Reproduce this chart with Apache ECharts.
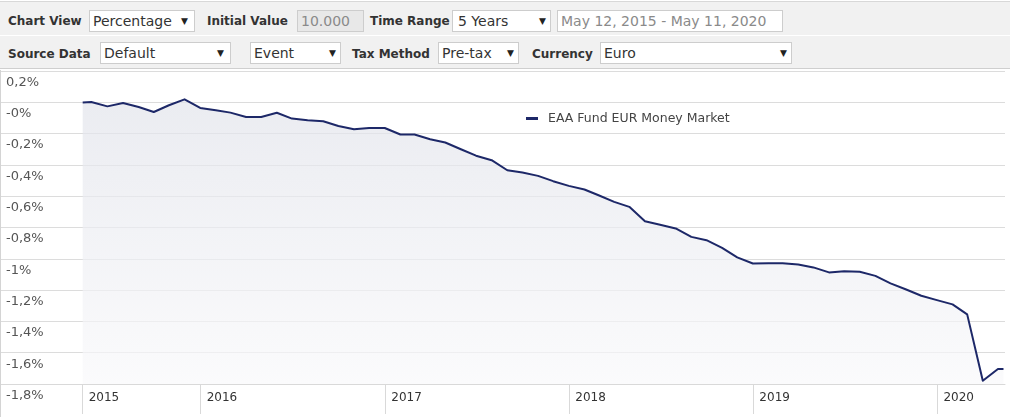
<!DOCTYPE html>
<html>
<head>
<meta charset="utf-8">
<script src="https://cdn.jsdelivr.net/npm/echarts@6/dist/echarts.min.js"></script>
<style>
  html, body { margin: 0; padding: 0; background: #fff; width: 1010px; height: 417px; overflow: hidden; font-family: "DejaVu Sans", sans-serif; }
  .row { position: absolute; left: 0; width: 1010px; background: #f1f1f1; }
  #row1 { top: 1px; height: 33px; border-top: 1px solid #d8d8d8; }
  #row2 { top: 35px; height: 32px; border-top: 1px solid #ffffff; border-bottom: 1px solid #cfcfcf; }
  .lbl { position: absolute; font-weight: bold; font-size: 12px; color: #333; line-height: 22px; white-space: nowrap; }
  .box { position: absolute; height: 20px; background: #fff; border: 1px solid #cdcdcd; box-sizing: content-box; }
  .box .t { position: absolute; left: 3px; top: 0; line-height: 20px; font-size: 14px; color: #333; white-space: nowrap; }
  .box .a { position: absolute; top: 0; line-height: 20px; font-size: 9px; color: #222; }
  .box.grey { background: #e8e8e8; }
  .box.grey .t, .box.ro .t { color: #8a8a8a; }
  #chartWrap { position: absolute; left: 0; top: 70px; width: 1009px; height: 347px; border-left: 1px solid #d4d4d4; }
  #chart { width: 1009px; height: 347px; }
</style>
</head>
<body>
<div class="row" id="row1">
  <div class="lbl" style="left:8px;top:8px;">Chart View</div>
  <div class="box" style="left:89px;top:8px;width:104px;"><span class="t">Percentage</span><span class="a" style="left:91px;">▼</span></div>
  <div class="lbl" style="left:207px;top:8px;">Initial Value</div>
  <div class="box grey" style="left:297px;top:8px;width:65px;"><span class="t">10.000</span></div>
  <div class="lbl" style="left:370px;top:8px;">Time Range</div>
  <div class="box" style="left:452px;top:8px;width:97px;"><span class="t" style="left:5px;">5 Years</span><span class="a" style="left:86px;">▼</span></div>
  <div class="box ro" style="left:557px;top:8px;width:224px;"><span class="t">May 12, 2015 - May 11, 2020</span></div>
</div>
<div class="row" id="row2">
  <div class="lbl" style="left:8px;top:7px;">Source Data</div>
  <div class="box" style="left:100px;top:6px;width:129px;"><span class="t">Default</span><span class="a" style="left:116px;">▼</span></div>
  <div class="box" style="left:250px;top:6px;width:89px;"><span class="t">Event</span><span class="a" style="left:78px;">▼</span></div>
  <div class="lbl" style="left:352px;top:7px;">Tax Method</div>
  <div class="box" style="left:438px;top:6px;width:79px;"><span class="t">Pre-tax</span><span class="a" style="left:68px;">▼</span></div>
  <div class="lbl" style="left:532px;top:7px;">Currency</div>
  <div class="box" style="left:600px;top:6px;width:190px;"><span class="t">Euro</span><span class="a" style="left:179px;">▼</span></div>
</div>
<div id="chartWrap"><div id="chart"></div></div>
<script>
// ---- data ----
const seriesName = 'EAA Fund EUR Money Market';
const dates = [
  '2015-05-12','2015-05-29','2015-06-30','2015-07-31','2015-08-31','2015-09-30','2015-10-30','2015-11-30','2015-12-31',
  '2016-01-31','2016-02-29','2016-03-31','2016-04-30','2016-05-31','2016-06-30','2016-07-31','2016-08-31','2016-09-30','2016-10-31','2016-11-30','2016-12-31',
  '2017-01-31','2017-02-28','2017-03-31','2017-04-30','2017-05-31','2017-06-30','2017-07-31','2017-08-31','2017-09-30','2017-10-31','2017-11-30','2017-12-31',
  '2018-01-31','2018-02-28','2018-03-31','2018-04-30','2018-05-31','2018-06-30','2018-07-31','2018-08-31','2018-09-30','2018-10-31','2018-11-30','2018-12-31',
  '2019-01-31','2019-02-28','2019-03-31','2019-04-30','2019-05-31','2019-06-30','2019-07-31','2019-08-31','2019-09-30','2019-10-31','2019-11-30','2019-12-31',
  '2020-01-31','2020-02-29','2020-03-31','2020-04-30','2020-05-11'
];
const values = [
  -0.002, 0.002, -0.026, -0.004, -0.030, -0.062, -0.019, 0.019, -0.036,
  -0.051, -0.066, -0.094, -0.094, -0.067, -0.104, -0.115, -0.121, -0.151, -0.172, -0.164, -0.164,
  -0.206, -0.206, -0.236, -0.257, -0.300, -0.341, -0.370, -0.434, -0.449, -0.470, -0.504, -0.534,
  -0.557, -0.594, -0.636, -0.668, -0.760, -0.782, -0.806, -0.860, -0.881, -0.930, -0.991, -1.030,
  -1.028, -1.028, -1.036, -1.055, -1.087, -1.079, -1.083, -1.109, -1.157, -1.196, -1.236, -1.264,
  -1.291, -1.355, -1.779, -1.704, -1.704
];
const yTickValues = [0.2, 0, -0.2, -0.4, -0.6, -0.8, -1, -1.2, -1.4, -1.6, -1.8];
const yTickLabels = ['0,2%', '-0%', '-0,2%', '-0,4%', '-0,6%', '-0,8%', '-1%', '-1,2%', '-1,4%', '-1,6%', '-1,8%'];
const xTickDates = ['2015-05-12', '2016-01-01', '2017-01-01', '2018-01-01', '2019-01-01', '2020-01-01'];
const xTickLabels = ['2015', '2016', '2017', '2018', '2019', '2020'];
const xAxisMin = '2014-12-01';
const xAxisMax = '2020-05-14';

// ---- chart ----
const toTs = s => new Date(s + 'T00:00:00').getTime();
const xTickTs = xTickDates.map(toTs);
const seriesData = dates.map((d, i) => [toTs(d), values[i]]);

const chart = echarts.init(document.getElementById('chart'), null, { renderer: 'canvas' });
const FONT = '"DejaVu Sans", Verdana, sans-serif';
chart.setOption({
  animation: false,
  backgroundColor: '#ffffff',
  grid: { left: 0, right: 5, top: 1, bottom: 33, outerBoundsMode: 'none', containLabel: false },
  legend: {
    data: [seriesName],
    left: 520, top: 37,
    icon: 'rect', itemWidth: 12, itemHeight: 3,
    textStyle: { color: '#444', fontSize: 12.5, fontFamily: FONT, padding: [0, 0, 0, 5] }
  },
  xAxis: {
    type: 'value',
    position: 'bottom',
    min: toTs(xAxisMin), max: toTs(xAxisMax),
    splitLine: { show: false },
    axisLine: { show: true, onZero: false, lineStyle: { color: '#d9d9d9', width: 1 } },
    axisTick: { show: true, customValues: xTickTs, length: 30, inside: false, lineStyle: { color: '#d9d9d9', width: 1 } },
    axisLabel: {
      customValues: xTickTs,
      formatter: v => { const i = xTickTs.findIndex(t => Math.abs(t - v) < 86400000); return i >= 0 ? xTickLabels[i] : ''; },
      align: 'left', padding: [0, 0, 0, 6], margin: 8,
      color: '#333', fontSize: 12, fontFamily: FONT,
      hideOverlap: false
    }
  },
  yAxis: {
    type: 'value',
    min: -1.8, max: 0.2, interval: 0.2,
    axisLine: { show: false },
    axisTick: { show: false },
    splitLine: { show: true, lineStyle: { color: '#dcdcdc', width: 1 } },
    axisLabel: {
      inside: true, margin: 5,
      verticalAlign: 'top', padding: [5, 0, 0, 0],
      color: '#555', fontSize: 13, fontFamily: FONT,
      formatter: v => { const i = yTickValues.findIndex(t => Math.abs(t - v) < 1e-6); return i >= 0 ? yTickLabels[i] : ''; }
    }
  },
  series: [{
    name: seriesName,
    type: 'line',
    data: seriesData,
    showSymbol: false,
    symbol: 'none',
    smooth: false,
    color: '#1d2868',
    lineStyle: { color: '#1d2868', width: 2, join: 'round' },
    areaStyle: {
      origin: 'start',
      color: new echarts.graphic.LinearGradient(0, 0, 0, 1, [
        { offset: 0, color: '#e2e4eb' },
        { offset: 1, color: '#f9f9fb' }
      ])
    }
  }]
});
</script>
</body>
</html>
